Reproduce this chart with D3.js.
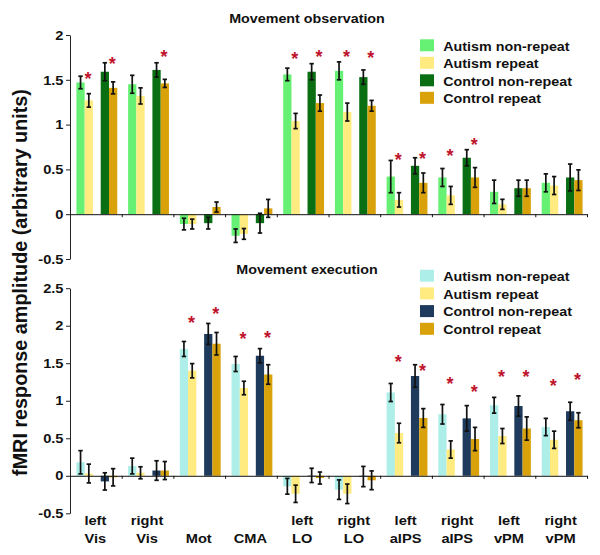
<!DOCTYPE html>
<html><head><meta charset="utf-8">
<script src="https://cdn.jsdelivr.net/npm/d3@7"></script>
<style>
body{margin:0;background:#fff;}
svg{display:block;}
text{font-family:"Liberation Sans",Arial,sans-serif;font-weight:bold;fill:#111;}
</style>
</head><body>
<svg id="c" width="600" height="555"></svg>
<script>
// ---------- data ----------
const categories = [["left","Vis"],["right","Vis"],["Mot"],["CMA"],["left","LO"],["right","LO"],["left","aIPS"],["right","aIPS"],["left","vPM"],["right","vPM"]];
const seriesNames = ["Autism non-repeat","Autism repeat","Control non-repeat","Control repeat"];

// Movement observation
const obsAutNon    = [1.47, 1.45, -0.11, -0.24, 1.56, 1.60, 0.42, 0.41, 0.25, 0.35];
const obsAutRep    = [1.27, 1.32, -0.11, -0.22, 1.04, 1.14, 0.16, 0.21, 0.11, 0.32];
const obsConNon    = [1.59, 1.61, -0.10, -0.10, 1.59, 1.53, 0.54, 0.63, 0.29, 0.41];
const obsConRep    = [1.41, 1.46, 0.08, 0.065, 1.24, 1.21, 0.35, 0.41, 0.29, 0.38];
const obsAutNonErr = [0.07, 0.10, 0.065, 0.075, 0.07, 0.10, 0.18, 0.10, 0.13, 0.10];
const obsAutRepErr = [0.075, 0.09, 0.055, 0.06, 0.085, 0.10, 0.08, 0.10, 0.056, 0.10];
const obsConNonErr = [0.10, 0.08, 0.065, 0.11, 0.09, 0.08, 0.09, 0.09, 0.09, 0.15];
const obsConRepErr = [0.067, 0.045, 0.056, 0.10, 0.09, 0.06, 0.11, 0.11, 0.09, 0.115];
const obsStarAut   = [1.56, null, null, null, 1.78, 1.80, 0.65, 0.70, null, null];
const obsStarCon   = [1.72, 1.80, null, null, 1.80, 1.79, 0.66, 0.82, null, null];
const obsTicks     = [-0.5, 0, 0.5, 1, 1.5, 2];

// Movement execution
const exeAutNon    = [0.18, 0.13, 1.69, 1.49, -0.14, -0.185, 1.11, 0.82, 0.94, 0.65];
const exeAutRep    = [0.03, 0.04, 1.40, 1.17, -0.24, -0.24, 0.57, 0.35, 0.53, 0.48];
const exeConNon    = [-0.075, 0.07, 1.89, 1.60, 0.005, -0.01, 1.33, 0.765, 0.93, 0.86];
const exeConRep    = [-0.02, 0.07, 1.76, 1.35, -0.03, -0.06, 0.77, 0.49, 0.63, 0.74];
const exeAutNonErr = [0.155, 0.105, 0.10, 0.10, 0.105, 0.13, 0.12, 0.13, 0.105, 0.115];
const exeAutRepErr = [0.125, 0.08, 0.095, 0.09, 0.115, 0.13, 0.13, 0.115, 0.10, 0.115];
const exeConNonErr = [0.115, 0.13, 0.14, 0.095, 0.095, 0.135, 0.15, 0.17, 0.135, 0.12];
const exeConRepErr = [0.115, 0.12, 0.15, 0.13, 0.08, 0.125, 0.125, 0.155, 0.155, 0.10];
const exeStarAut   = [null, null, 2.10, 1.88, null, null, 1.58, 1.28, 1.37, 1.25];
const exeStarCon   = [null, null, 2.22, 1.89, null, null, 1.45, 1.17, 1.37, 1.34];
const exeTicks     = [-0.5, 0, 0.5, 1, 1.5, 2, 2.5];

// ---------- styles ----------
const obsColors = ["#66f074", "#ffeb80", "#0a6e12", "#d9a20a"];
const exeColors = ["#aeeee8", "#ffeb80", "#1e3a5c", "#d9a20a"];
const starColor = "#c0142c";
const SX = 1.1;

const svg = d3.select("#c");
const x = d3.scaleBand().domain(d3.range(categories.length)).range([70, 587]);
const w = x.bandwidth();
const pair = d3.scaleBand().domain([0, 1]).range([0.124 * w, 0.914 * w]).paddingInner(0.32);
const sub = d3.scaleBand().domain([0, 1]).range([0, pair.bandwidth()]);
const bw = sub.bandwidth();
const barX = (i, s) => x(i) + pair(Math.floor(s / 2)) + sub(s % 2);
const xb = d3.scaleLinear().domain([0, categories.length]).range([70, 587]);

function stext(g, tx, ty, str, size, anchor) {
  return g.append("text")
    .attr("transform", `translate(${tx},${ty}) scale(${SX},1)`)
    .attr("text-anchor", anchor)
    .style("font-size", size + "px")
    .text(str);
}

function panel(p) {
  const y = d3.scaleLinear().domain(p.domain).range(p.range);
  const g = svg.append("g");

  p.values.forEach((vals, s) => {
    g.append("g").selectAll("rect").data(vals).join("rect")
      .attr("x", (d, i) => barX(i, s))
      .attr("width", bw)
      .attr("y", d => y(Math.max(0, d)))
      .attr("height", d => Math.abs(y(d) - y(0)))
      .attr("fill", p.colors[s]);
  });

  const ya = g.append("g").attr("transform", "translate(70,0)")
    .call(d3.axisLeft(y).tickValues(p.ticks).tickSize(4).tickSizeOuter(0).tickFormat(""));
  ya.attr("color", "#222");

  const xa = g.append("g").attr("transform", `translate(0,${y(0)})`)
    .call(d3.axisBottom(xb).tickValues(d3.range(1, categories.length + 1)).tickSize(3).tickSizeOuter(0).tickFormat(""));
  xa.attr("color", "#111");

  p.ticks.forEach(t => stext(g, 63.5, y(t) + 4.7, String(t), 13.3, "end"));

  // error bars
  p.values.forEach((vals, s) => {
    const eg = g.append("g").attr("stroke", "#111").attr("stroke-width", 1.7);
    vals.forEach((v, i) => {
      const e = p.errors[s][i];
      const cx = barX(i, s) + bw / 2;
      eg.append("line").attr("x1", cx).attr("x2", cx).attr("y1", y(v + e)).attr("y2", y(v - e));
      eg.append("line").attr("x1", cx - 2.2).attr("x2", cx + 2.2).attr("y1", y(v + e)).attr("y2", y(v + e));
      eg.append("line").attr("x1", cx - 2.2).attr("x2", cx + 2.2).attr("y1", y(v - e)).attr("y2", y(v - e));
    });
  });

  // significance stars over the repeat bars
  [[1, p.stars[0]], [3, p.stars[1]]].forEach(([s, arr]) => {
    arr.forEach((v, i) => {
      if (v === null) return;
      g.append("text")
        .attr("x", barX(i, s) + bw * 0.4)
        .attr("y", y(v) + 10.4)
        .attr("text-anchor", "middle")
        .style("font-size", "18px")
        .style("fill", starColor)
        .text("*");
    });
  });

  // title
  stext(g, 307, p.titleY, p.title, 13, "middle");

  // legend
  seriesNames.forEach((name, s) => {
    g.append("rect").attr("x", 420).attr("y", p.legY + s * p.legStep)
      .attr("width", 14).attr("height", 12).attr("fill", p.colors[s]);
    stext(g, 443.3, p.legY + 11.2 + s * p.legStep, name, 13, "start");
  });
  return y;
}

panel({
  values: [obsAutNon, obsAutRep, obsConNon, obsConRep],
  errors: [obsAutNonErr, obsAutRepErr, obsConNonErr, obsConRepErr],
  stars: [obsStarAut, obsStarCon],
  domain: [-0.5, 2], range: [259, 35], ticks: obsTicks,
  colors: obsColors, title: "Movement observation", titleY: 22.7,
  legY: 39.3, legStep: 17.5
});

panel({
  values: [exeAutNon, exeAutRep, exeConNon, exeConRep],
  errors: [exeAutNonErr, exeAutRepErr, exeConNonErr, exeConRepErr],
  stars: [exeStarAut, exeStarCon],
  domain: [-0.5, 2.5], range: [513.3, 288.2], ticks: exeTicks,
  colors: exeColors, title: "Movement execution", titleY: 274,
  legY: 269.7, legStep: 17.7
});

// category labels
const lg = svg.append("g");
categories.forEach((lines, i) => {
  const cx = x(i) + w / 2 - 0.5;
  if (lines.length === 2) {
    stext(lg, cx, 525, lines[0], 13.3, "middle");
    stext(lg, cx, 542.5, lines[1], 13.3, "middle");
  } else {
    stext(lg, cx, 543, lines[0], 13.3, "middle");
  }
});

// y-axis title
svg.append("text")
  .attr("transform", "translate(27,282.5) rotate(-90)")
  .attr("text-anchor", "middle")
  .style("font-size", "19.8px")
  .text("fMRI response amplitude (arbitrary units)");
</script>
</body></html>
